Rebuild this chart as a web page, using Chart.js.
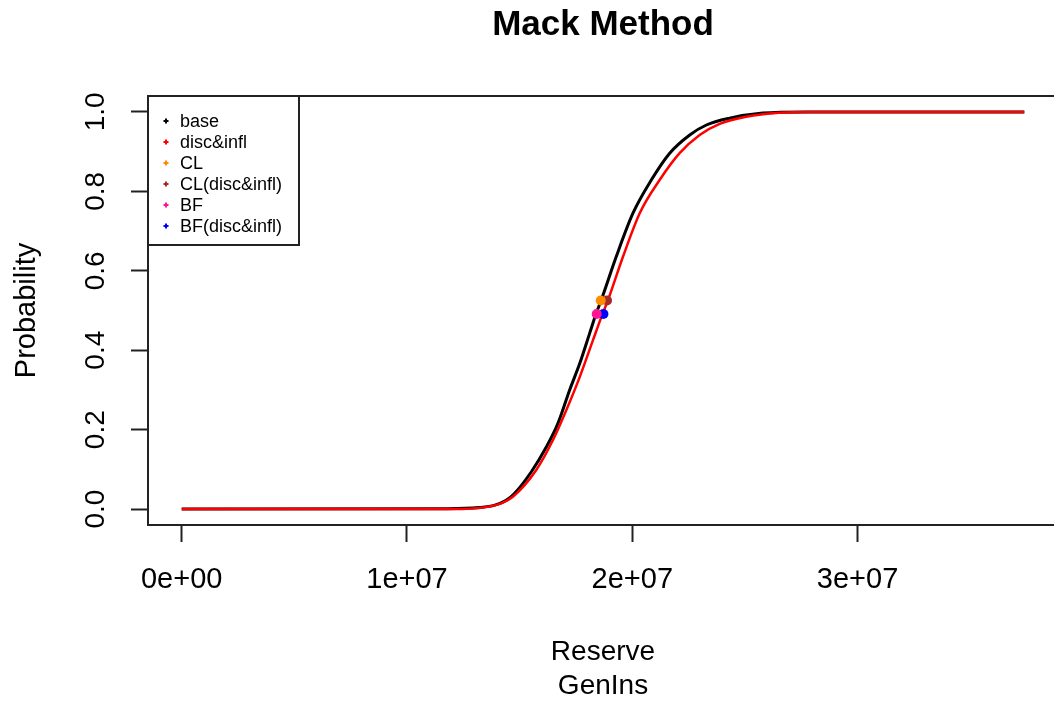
<!DOCTYPE html>
<html><head><meta charset="utf-8">
<script src="https://cdn.jsdelivr.net/npm/chart.js@4/dist/chart.umd.min.js"></script>
<style>
html,body{margin:0;padding:0;background:#fff;overflow:hidden;}
#wrap{position:relative;width:1070px;height:707px;}
</style></head><body>
<div id="wrap"><canvas id="c"></canvas></div>
<script>
// ---- data ----
const baseReserve = [0, 11.8e6, 13.2e6, 13.9e6, 14.4e6, 14.78e6, 15.52e6, 16.19e6, 16.70e6, 17.22e6, 17.67e6, 18.11e6, 18.40e6, 18.62e6, 19.29e6, 20.03e6, 20.85e6, 21.66e6, 22.55e6, 23.29e6, 24.32e6, 25.80e6, 27.65e6, 37.4e6];
const baseProb    = [0, 0.001, 0.004, 0.010, 0.022, 0.040, 0.094, 0.157, 0.216, 0.300, 0.367, 0.443, 0.493, 0.526, 0.636, 0.745, 0.829, 0.896, 0.942, 0.967, 0.984, 0.997, 1.0, 1.0];
const discReserve = [0, 12.0e6, 13.5e6, 14.2e6, 14.70e6, 15.73e6, 16.48e6, 17.07e6, 17.67e6, 18.26e6, 18.63e6, 18.92e6, 19.59e6, 20.33e6, 21.22e6, 22.10e6, 22.99e6, 23.88e6, 25.06e6, 26.5e6, 28.0e6, 37.4e6];
const discProb    = [0, 0, 0.005, 0.015, 0.031, 0.098, 0.174, 0.249, 0.333, 0.426, 0.484, 0.526, 0.636, 0.745, 0.829, 0.896, 0.942, 0.970, 0.988, 0.998, 1.0, 1.0];
const pointLabels  = ['CL', 'CL(disc&infl)', 'BF', 'BF(disc&infl)'];
const pointReserve = [18.60e6, 18.88e6, 18.42e6, 18.72e6];
const pointProb    = [0.525, 0.525, 0.491, 0.491];
const lineLabels   = ['base', 'disc&infl'];
const xTickValues = [0, 1e7, 2e7, 3e7];
const xTickLabels = ['0e+00', '1e+07', '2e+07', '3e+07'];
const yTickValues = [0, 0.2, 0.4, 0.6, 0.8, 1.0];
const yTickLabels = ['0.0', '0.2', '0.4', '0.6', '0.8', '1.0'];
const legendLabels = ['base', 'disc&infl', 'CL', 'CL(disc&infl)', 'BF', 'BF(disc&infl)'];

// ---- styles ----
const lineColors  = ['#000000', '#FF0000'];
const pointColors = ['#FF8C00', '#A52A2A', '#FF1493', '#0000FF'];
const legendColors = lineColors.concat(pointColors);
const FONT = "'Liberation Sans', Arial, Helvetica, sans-serif";
Chart.defaults.font.family = FONT;
Chart.defaults.color = '#000';

const zip = (xs, ys) => xs.map((x, i) => ({x: x, y: ys[i]}));

const datasets = [
  {label: lineLabels[0], data: zip(baseReserve, baseProb), borderColor: lineColors[0], borderWidth: 3, pointRadius: 0, fill: false, cubicInterpolationMode: 'monotone', order: 3},
  {label: lineLabels[1], data: zip(discReserve, discProb), borderColor: lineColors[1], borderWidth: 2.5, pointRadius: 0, fill: false, cubicInterpolationMode: 'monotone', order: 2}
];
pointLabels.forEach((lab, i) => {
  datasets.push({label: lab, data: [{x: pointReserve[i], y: pointProb[i]}], showLine: false,
    pointRadius: 5, pointBorderWidth: 0, backgroundColor: pointColors[i], borderColor: pointColors[i], order: 1});
});

const boxPlugin = {
  id: 'rbox',
  afterDatasetsDraw(chart) {
    const {ctx, chartArea: a} = chart;
    ctx.save();
    ctx.strokeStyle = '#222';
    ctx.lineWidth = 2;
    ctx.strokeRect(a.left, a.top, a.right - a.left, a.bottom - a.top);
    ctx.restore();
  }
};

const legendPlugin = {
  id: 'rlegend',
  afterDraw(chart) {
    const {ctx, chartArea: a} = chart;
    const x0 = a.left, y0 = a.top, w = 151, h = 149;
    ctx.save();
    ctx.fillStyle = '#fff';
    ctx.fillRect(x0, y0, w, h);
    ctx.strokeStyle = '#222';
    ctx.lineWidth = 2;
    ctx.strokeRect(x0, y0, w, h);
    ctx.font = '18px ' + FONT;
    ctx.textBaseline = 'middle';
    ctx.textAlign = 'left';
    legendLabels.forEach((lab, i) => {
      const y = y0 + 25 + i * 21;
      const mx = x0 + 18;
      ctx.fillStyle = legendColors[i];
      ctx.fillRect(mx - 2.5, y - 1, 5, 2);
      ctx.fillRect(mx - 1, y - 2.5, 2, 5);
      ctx.fillStyle = '#000';
      ctx.fillText(lab, x0 + 32, y + 1);
    });
    ctx.restore();
  }
};

new Chart(document.getElementById('c'), {
  type: 'line',
  data: {datasets: datasets},
  plugins: [boxPlugin, legendPlugin],
  options: {
    responsive: true,
    maintainAspectRatio: false,
    animation: false,
    layout: {padding: {left: 0, right: 12, top: 0, bottom: 0}},
    plugins: {
      legend: {display: false},
      tooltip: {enabled: false},
      title: {display: true, fullSize: false, text: 'Mack Method', color: '#000',
        font: {size: 35, weight: 'bold'}, padding: {top: 4, bottom: 50}},
      subtitle: {display: true, fullSize: false, position: 'bottom', text: 'GenIns', color: '#000',
        font: {size: 28, weight: 'normal'}, padding: {top: 0, bottom: 4.4}}
    },
    scales: {
      x: {
        type: 'linear', min: -1.496e6, max: 38.896e6,
        afterBuildTicks: s => { s.ticks = xTickValues.map(v => ({value: v})); },
        afterFit: s => { s.height = 144; },
        ticks: {callback: v => xTickLabels[xTickValues.indexOf(v)], font: {size: 29}, color: '#000',
          padding: 21, maxRotation: 0, minRotation: 0, autoSkip: false},
        grid: {drawOnChartArea: false, drawTicks: true, tickLength: 17, tickWidth: 2, tickColor: '#222'},
        border: {display: false},
        title: {display: true, text: 'Reserve', color: '#000', font: {size: 28}, padding: {top: 0, bottom: 0}}
      },
      y: {
        type: 'linear', min: -0.04, max: 1.04,
        afterBuildTicks: s => { s.ticks = yTickValues.map(v => ({value: v})); },
        afterFit: s => { s.width = 148; },
        ticks: {callback: v => yTickLabels[yTickValues.indexOf(v)], font: {size: 28}, color: '#000',
          padding: 15, minRotation: 90, maxRotation: 90, crossAlign: 'center', autoSkip: false},
        grid: {drawOnChartArea: false, drawTicks: true, tickLength: 17, tickWidth: 2, tickColor: '#222'},
        border: {display: false},
        title: {display: true, text: 'Probability', color: '#000', font: {size: 29}, padding: {top: 10, bottom: 0}}
      }
    }
  }
});
</script>
</body></html>
